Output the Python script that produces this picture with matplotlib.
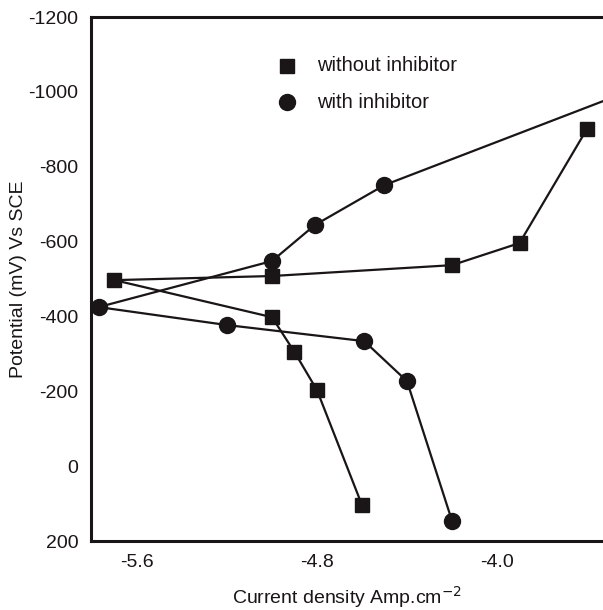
import matplotlib
matplotlib.use("Agg")
import matplotlib.pyplot as plt

plt.rcParams['font.family'] = ['Liberation Sans', 'DejaVu Sans']

# without inhibitor (single polyline, cathodic branch -> anodic branch)
wo_x = [-4.60, -4.80, -4.90, -5.00, -5.70, -5.00, -4.20, -3.90, -3.60]
wo_y = [104, -203, -305, -398, -497, -508, -537, -596, -901]

# with inhibitor
wi_x = [-4.20, -4.40, -4.59, -5.20, -5.77, -5.00, -4.81, -4.50, -3.40]
wi_y = [146, -227, -334, -377, -425, -548, -644, -751, -1005]

xticks = [-5.6, -4.8, -4.0]
xticklabels = ['-5.6', '-4.8', '-4.0']
yticks = [-1200, -1000, -800, -600, -400, -200, 0, 200]
yticklabels = ['-1200', '-1000', '-800', '-600', '-400', '-200', '0', '200']

fig = plt.figure(figsize=(6.03, 6.10), dpi=100)
ax = fig.add_axes([0.151, 0.1131, 0.849, 0.859])

ax.plot(wo_x, wo_y, color='#1a1516', lw=1.6, marker='s', ms=10,
        mfc='#1a1516', mec='#1a1516', clip_on=True, zorder=3)
ax.plot(wi_x, wi_y, color='#1a1516', lw=1.6, marker='o', ms=11.5,
        mfc='#1a1516', mec='#1a1516', clip_on=True, zorder=3)

ax.set_xlim(-5.804, -3.529)
ax.set_ylim(200, -1200)
ax.set_xticks(xticks)
ax.set_xticklabels(xticklabels)
ax.set_yticks(yticks)
ax.set_yticklabels(yticklabels)
ax.tick_params(axis='both', length=0, labelsize=14, colors='#1a1516')
ax.tick_params(axis='y', pad=9)
ax.tick_params(axis='x', pad=9)

for s in ['left', 'top', 'bottom']:
    ax.spines[s].set_linewidth(2.2)
    ax.spines[s].set_color('#1a1516')
ax.spines['right'].set_visible(False)

ax.set_xlabel('Current density Amp.cm$^{-2}$', fontsize=14, color='#1a1516', labelpad=10)
ax.set_ylabel('Potential (mV) Vs SCE', fontsize=14, color='#1a1516', labelpad=1)

# legend drawn as markers + text in data coordinates
leg_x = -4.933
ax.plot([leg_x], [-1070], marker='s', ms=10, color='#1a1516', ls='none')
ax.plot([leg_x], [-972], marker='o', ms=11.5, color='#1a1516', ls='none')
ax.text(-4.80, -1070, 'without inhibitor', fontsize=14.5, va='center', ha='left', color='#1a1516')
ax.text(-4.80, -972, 'with inhibitor', fontsize=14.5, va='center', ha='left', color='#1a1516')

fig.savefig('out.png', dpi=100)
